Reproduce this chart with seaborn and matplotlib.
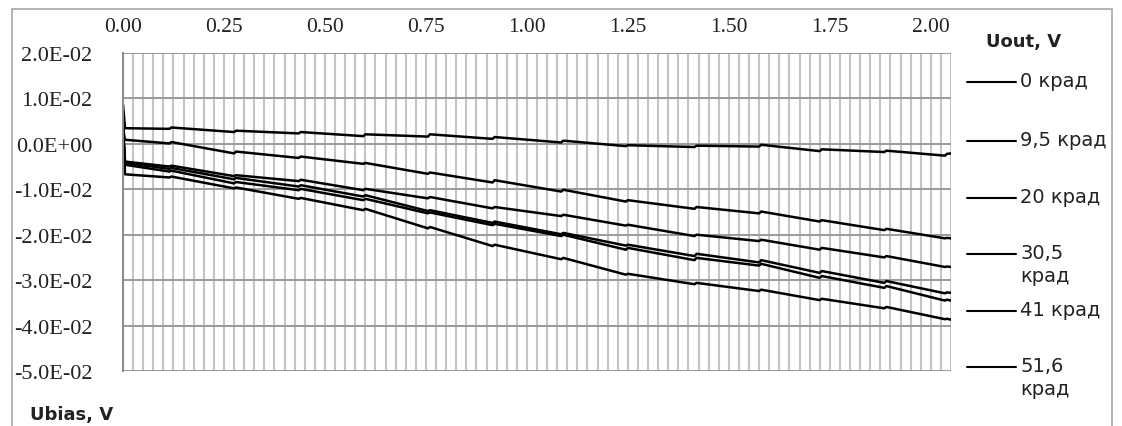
import numpy as np
import pandas as pd
import seaborn as sns
import matplotlib
matplotlib.use("Agg")
import matplotlib.pyplot as plt
from matplotlib.ticker import MultipleLocator, FuncFormatter
from matplotlib.lines import Line2D
from matplotlib.patches import Rectangle

sns.set_style("white")

# Ubias, V - sample points (pairs around each small step)
ubias = [0.0, 0.005, 0.115, 0.12, 0.275, 0.28, 0.435, 0.44, 0.595, 0.6,
         0.755, 0.76, 0.915, 0.92, 1.085, 1.09, 1.245, 1.25, 1.415, 1.42,
         1.575, 1.58, 1.725, 1.73, 1.885, 1.89, 2.035, 2.04, 2.05]

dose_labels = ["0 крад", "9,5 крад", "20 крад", "30,5 крад", "41 крад", "51,6 крад"]
legend_text = ["0 крад", "9,5 крад", "20 крад", "30,5\nкрад", "41 крад", "51,6\nкрад"]

# Uout, V per dose
u_0 = [0.0086, 0.00345, 0.0033, 0.0036, 0.0026, 0.0029, 0.0023, 0.0026, 0.0017, 0.0021,
       0.0016, 0.0021, 0.0011, 0.0015, 0.0003, 0.0007, -0.0005, -0.0003, -0.0007, -0.0004,
       -0.0006, -0.0002, -0.0016, -0.0012, -0.0018, -0.0015, -0.0026, -0.0022, -0.0021]
u_9_5 = [0.0035, 0.0009, 0.0001, 0.0004, -0.0021, -0.0017, -0.0031, -0.0028, -0.0044, -0.0042,
         -0.0066, -0.0063, -0.0085, -0.0080, -0.0105, -0.0101, -0.0127, -0.0124, -0.0143, -0.0139,
         -0.0153, -0.0149, -0.0171, -0.0168, -0.0190, -0.0187, -0.0208, -0.0207, -0.0208]
u_20 = [0.0035, -0.0039, -0.0050, -0.0048, -0.0071, -0.0069, -0.0082, -0.0079, -0.0102, -0.0099,
        -0.0120, -0.0117, -0.0142, -0.0139, -0.0159, -0.0156, -0.0180, -0.0178, -0.0203, -0.0200,
        -0.0214, -0.0211, -0.0233, -0.0229, -0.0250, -0.0247, -0.0271, -0.0270, -0.0271]
u_30_5 = [0.0035, -0.0042, -0.0055, -0.0053, -0.0078, -0.0075, -0.0094, -0.0091, -0.0116, -0.0113,
          -0.0148, -0.0146, -0.0174, -0.0171, -0.0199, -0.0196, -0.0224, -0.0222, -0.0247, -0.0242,
          -0.0261, -0.0256, -0.0284, -0.0280, -0.0306, -0.0302, -0.0329, -0.0327, -0.0328]
u_41 = [0.0035, -0.0046, -0.0061, -0.0059, -0.0087, -0.0084, -0.0102, -0.0099, -0.0124, -0.0121,
        -0.0153, -0.0151, -0.0179, -0.0176, -0.0203, -0.0200, -0.0233, -0.0229, -0.0256, -0.0251,
        -0.0268, -0.0264, -0.0295, -0.0291, -0.0317, -0.0313, -0.0345, -0.0343, -0.0345]
u_51_6 = [0.0035, -0.0067, -0.0074, -0.0072, -0.0098, -0.0096, -0.0121, -0.0119, -0.0146, -0.0143,
          -0.0186, -0.0183, -0.0225, -0.0222, -0.0254, -0.0251, -0.0288, -0.0286, -0.0309, -0.0306,
          -0.0324, -0.0321, -0.0344, -0.0341, -0.0362, -0.0359, -0.0386, -0.0385, -0.0387]

series = [u_0, u_9_5, u_20, u_30_5, u_41, u_51_6]

rows = []
for lab, vals in zip(dose_labels, series):
    for x, y in zip(ubias, vals):
        rows.append({"Ubias": x, "Uout": y, "dose": lab})
df = pd.DataFrame(rows)


def sci_fmt(v, pos):
    # avoid the -6.9E-18 float leftover at zero
    if abs(v) < 1e-9:
        v = 0.0
    return f"{v:.1E}"


fig = plt.figure(figsize=(11.22, 4.27), dpi=100)
W, H = 1122, 427
ax = fig.add_axes([123 / W, 1 - 372 / H, (951 - 123) / W, (372 - 54) / H])

sns.lineplot(data=df, x="Ubias", y="Uout", hue="dose", palette=["black"] * 6,
             linewidth=1.8, legend=False, sort=False, ax=ax, estimator=None)

ax.set_xlim(0, 2.05)
ax.set_ylim(-0.05, 0.02)
ax.set_xticks(np.arange(0, 2.01, 0.25))
ax.xaxis.set_minor_locator(MultipleLocator(0.025))
ax.yaxis.set_major_locator(MultipleLocator(0.01))
ax.yaxis.set_major_formatter(FuncFormatter(sci_fmt))
ax.xaxis.set_major_formatter(FuncFormatter(lambda v, p: f"{v:.2f}"))
ax.xaxis.tick_top()

ax.grid(True, axis="x", which="both", color="#c4c4c4", linewidth=1.5)
ax.grid(True, axis="y", which="major", color="#9a9a9a", linewidth=1.4)
ax.set_axisbelow(True)

for s in ["top", "right", "bottom"]:
    ax.spines[s].set_visible(False)
ax.spines["left"].set_color("#8a8a8a")
ax.spines["left"].set_linewidth(1.4)

ax.tick_params(axis="x", which="both", length=0, pad=12, labelsize=15.5)
ax.tick_params(axis="y", length=8, color="#9a9a9a", width=1.4, pad=14, labelsize=16)
for t in ax.get_xticklabels() + ax.get_yticklabels():
    t.set_fontfamily("Liberation Serif")
    t.set_color("#222222")
ax.set_xlabel("")
ax.set_ylabel("")

# hand-drawn legend like the Excel one
entry_y = [83, 142, 199, 255, 312, 368]
for txt, py in zip(legend_text, entry_y):
    fig.add_artist(Line2D([967 / W, 1016 / W], [1 - py / H, 1 - py / H],
                          color="black", linewidth=1.5))
    fig.text(1020 / W, 1 - (py - 11) / H, txt, ha="left", va="top",
             fontsize=14, family="DejaVu Sans", color="#222222", linespacing=1.25)

fig.text(986 / W, 1 - 42 / H, "Uout, V", ha="left", va="center",
         fontsize=13, fontweight="bold", family="DejaVu Sans", color="#222222")
fig.text(30 / W, 1 - 415 / H, "Ubias, V", ha="left", va="center",
         fontsize=13, fontweight="bold", family="DejaVu Sans", color="#222222")

# chart border
fig.add_artist(Rectangle((12 / W, -0.1), (1112 - 12) / W, 1.1 - 10 / H,
                         fill=False, edgecolor="#a8a8a8", linewidth=1.2))

fig.savefig("out.png", dpi=100)
